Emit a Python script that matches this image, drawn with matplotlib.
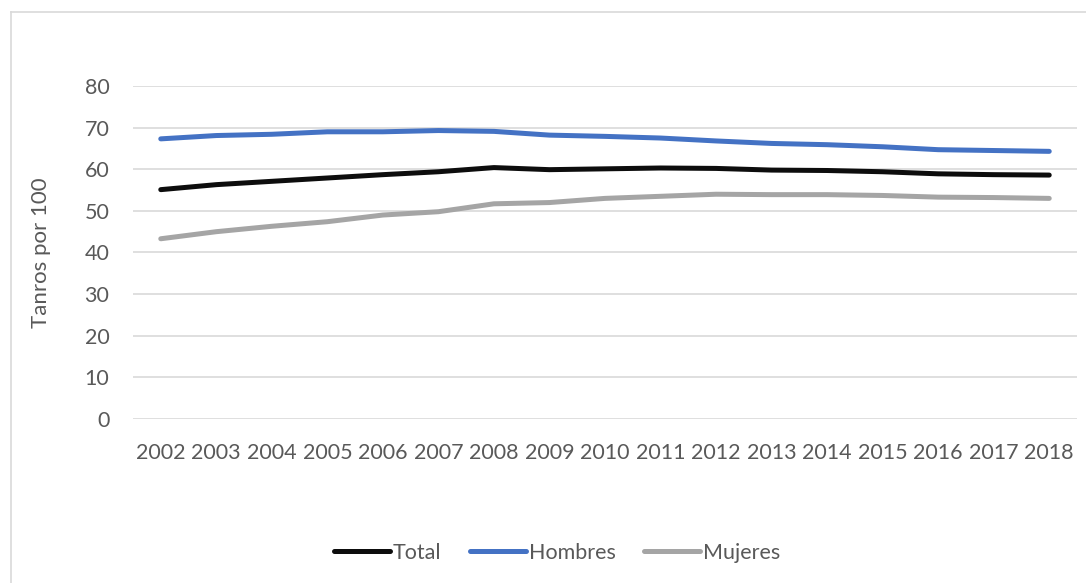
import matplotlib
matplotlib.use("Agg")
import matplotlib.pyplot as plt
from matplotlib.lines import Line2D

years = [str(y) for y in range(2002, 2019)]
total = [55.1, 56.3, 57.1, 57.9, 58.7, 59.4, 60.4, 59.9, 60.1, 60.3, 60.2, 59.8, 59.7, 59.4, 58.9, 58.7, 58.6]
hombres = [67.3, 68.1, 68.4, 69.0, 69.0, 69.3, 69.1, 68.2, 67.9, 67.5, 66.8, 66.2, 65.9, 65.4, 64.7, 64.5, 64.3]
mujeres = [43.3, 45.0, 46.3, 47.4, 49.0, 49.8, 51.7, 52.0, 53.0, 53.5, 54.0, 53.9, 53.9, 53.7, 53.3, 53.2, 53.0]
yticks = [0, 10, 20, 30, 40, 50, 60, 70, 80]

plt.rcParams['font.family'] = ['Lato', 'DejaVu Sans']
W, H = 1086, 583
fig = plt.figure(figsize=(W / 100, H / 100), dpi=100)
txt = '#595959'
grid = '#D9D9D9'

# outer chart frame (partially visible)
fig.add_artist(Line2D([11 / W, 11 / W], [0, 1 - 12 / H], color=grid, lw=1.2))
fig.add_artist(Line2D([11 / W, 1], [1 - 12 / H, 1 - 12 / H], color=grid, lw=1.2))

ax = fig.add_axes([133 / W, 1 - 419 / H, (1077 - 133) / W, (419 - 86) / H])
x = list(range(len(years)))
ax.plot(x, total, color='#0D0D0D', lw=3.6, solid_capstyle='round', label='Total')
ax.plot(x, hombres, color='#4472C4', lw=3.6, solid_capstyle='round', label='Hombres')
ax.plot(x, mujeres, color='#A5A5A5', lw=3.6, solid_capstyle='round', label='Mujeres')

ax.set_xlim(-0.5, len(years) - 0.5)
ax.set_ylim(0, 80)
ax.set_yticks(yticks)
ax.set_xticks(x)
ax.set_xticklabels(years)
ax.yaxis.grid(True, color=grid, lw=1.2)
ax.set_axisbelow(True)
for s in ax.spines.values():
    s.set_visible(False)
ax.tick_params(axis='both', length=0, colors=txt, labelsize=15.5)
ax.tick_params(axis='y', pad=17)
ax.tick_params(axis='x', pad=17)
ax.set_ylabel('Tanros por 100', color=txt, fontsize=16, labelpad=24)

h, l = ax.get_legend_handles_labels()
fig.legend(h, l, loc='center', bbox_to_anchor=(557 / W, 1 - 553 / H), ncol=3,
           frameon=False, fontsize=15.5, labelcolor=txt, handlelength=2.6,
           handletextpad=0.15, columnspacing=1.3)

fig.savefig('out.png', dpi=100, facecolor='white')
